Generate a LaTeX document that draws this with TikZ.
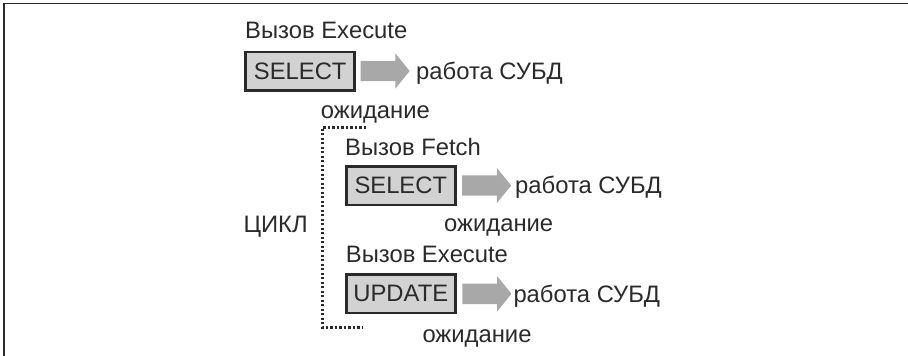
\documentclass[tikz,border=0pt]{standalone}
\usepackage{fontspec}
\setmainfont{Liberation Sans}
\usetikzlibrary{shapes.arrows}
\definecolor{boxfill}{HTML}{D2D2D2}
\definecolor{arrowfill}{HTML}{A8A8A8}
\definecolor{ink}{HTML}{2A2A2A}
\tikzset{
 x=1pt,y=-1pt,
 lbl/.style={font=\fontsize{23.8}{26}\selectfont,text=ink,inner sep=0pt,anchor=base west},
 querybox/.style={draw=ink,line width=2.5pt,fill=boxfill,font=\fontsize{23.8}{26}\selectfont,text=ink,inner sep=0pt,minimum width=109pt,minimum height=38.5pt,text height=17pt,text depth=1pt,anchor=center},
 flowarrow/.style={single arrow,fill=arrowfill,draw=none,inner sep=0pt,text width=1pt,text height=20pt,text depth=0pt,minimum height=49pt,single arrow head extend=7.5pt,single arrow head indent=0pt,single arrow tip angle=102,anchor=center},
 loopline/.style={draw=ink,line width=2.6pt,line cap=butt,dash pattern=on 2.3pt off 2.2pt}
}
\begin{document}
\begin{tikzpicture}
\useasboundingbox (0,0) rectangle (908,356);
\draw[draw=ink,line width=1.5pt] (4,356) -- (4,3.5) -- (908,3.5);
% first call
\node[lbl] (t1) at (245,38.5) {Вызов Execute};
\node[querybox] (b1) at (300.2,71) {SELECT};
\node[flowarrow] (a1) at (381,71) {};
\node[lbl] (r1) at (416,79.5) {работа СУБД};
\node[lbl] (w1) at (320.7,118) {ожидание};
% second call
\node[lbl] (t2) at (345,155) {Вызов Fetch};
\node[querybox] (b2) at (400.8,185.5) {SELECT};
\node[flowarrow] (a2) at (482.5,185.5) {};
\node[lbl] (r2) at (515,193.5) {работа СУБД};
\node[lbl] (w2) at (444,231.7) {ожидание};
% third call
\node[lbl] (t3) at (345.7,262.5) {Вызов Execute};
\node[querybox] (b3) at (400.8,293.8) {UPDATE};
\node[flowarrow] (a3) at (482.8,293.8) {};
\node[lbl] (r3) at (513.3,302.5) {работа СУБД};
\node[lbl] (w3) at (422.3,342.5) {ожидание};
% loop
\node[lbl] (loop) at (243.3,232.7) {ЦИКЛ};
\coordinate (ls) at (366,127.3);
\coordinate (lc1) at (322.3,127.3);
\coordinate (lc2) at (322.3,327.7);
\coordinate (le) at (363,327.7);
\draw[loopline] (ls) -- (lc1) -- (lc2) -- (le);
\end{tikzpicture}
\end{document}
